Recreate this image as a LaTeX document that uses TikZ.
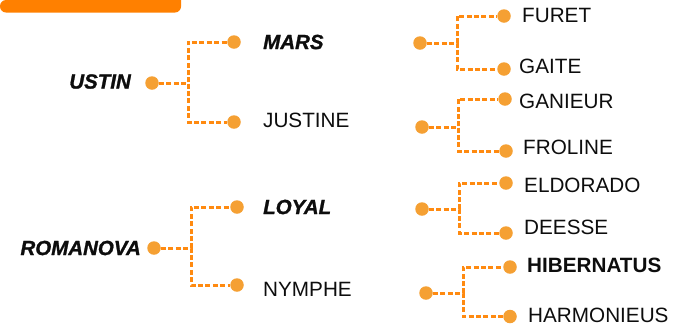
\documentclass[tikz,border=0pt]{standalone}
\usepackage{fontspec}
\setmainfont{Liberation Sans}
\newfontface\heavybi{Liberation Sans Bold Italic}[FakeBold=1.2]
\definecolor{barorange}{HTML}{FF8000}
\definecolor{lineorange}{HTML}{FF8A10}
\definecolor{dotorange}{HTML}{F5A033}
\begin{document}
\begin{tikzpicture}[x=1pt,y=-1pt,
  dot/.style={circle,fill=dotorange,inner sep=0pt,minimum size=13.5pt},
  conn/.style={draw=lineorange,line width=3pt,dash pattern=on 5pt off 2.4pt},
  lbl/.style={inner sep=0pt,font=\fontsize{20.7}{24}\selectfont,text=black!95},
  lblbi/.style={lbl,font=\fontsize{20.5}{24}\selectfont\heavybi},
  lblb/.style={lbl,font=\fontsize{20.7}{24}\selectfont\bfseries}]
\useasboundingbox (0,0) rectangle (683,325);
\fill[barorange] (0,0) -- (181,0) -- (181,6) [rounded corners=6pt]-- (181,12.5) -- (0,12.5) -- cycle;

% group A
\node[dot] (dA) at (152,83) {};
\node[dot] (dA1) at (234,42) {};
\node[dot] (dA2) at (234,122) {};
\coordinate (jA) at (188,0);
\node[lblbi,anchor=east] (tA) at (131,81.5) {USTIN};
\node[lblbi,anchor=west] (tA1) at (263,42) {MARS};
\node[lbl,anchor=west] (tA2) at (263,120) {JUSTINE};
\draw[conn] (dA) -- (dA -| jA) |- (dA1);
\draw[conn] (dA) -- (dA -| jA) |- (dA2);

% group B
\node[dot] (dB) at (154,248) {};
\node[dot] (dB1) at (237,207) {};
\node[dot] (dB2) at (237,285) {};
\coordinate (jB) at (191,0);
\node[lblbi,anchor=east] (tB) at (141,248) {ROMANOVA};
\node[lblbi,anchor=west] (tB1) at (263,207) {LOYAL};
\node[lbl,anchor=west] (tB2) at (263,289) {NYMPHE};
\draw[conn] (dB) -- (dB -| jB) |- (dB1);
\draw[conn] (dB) -- (dB -| jB) |- (dB2);

% group C
\node[dot] (dC) at (420,43) {};
\node[dot] (dC1) at (504,16) {};
\node[dot] (dC2) at (504,69) {};
\coordinate (jC) at (457,0);
\node[lbl,anchor=west] (tC1) at (522,15) {FURET};
\node[lbl,anchor=west] (tC2) at (519,66) {GAITE};
\draw[conn] (dC) -- (dC -| jC) |- (dC1);
\draw[conn] (dC) -- (dC -| jC) |- (dC2);

% group D
\node[dot] (dD) at (422,127) {};
\node[dot] (dD1) at (505,99) {};
\node[dot] (dD2) at (506,151) {};
\coordinate (jD) at (458,0);
\node[lbl,anchor=west] (tD1) at (519,101) {GANIEUR};
\node[lbl,anchor=west] (tD2) at (523,147.5) {FROLINE};
\draw[conn] (dD) -- (dD -| jD) |- (dD1);
\draw[conn] (dD) -- (dD -| jD) |- (dD2);

% group E
\node[dot] (dE) at (422,209) {};
\node[dot] (dE1) at (506,183) {};
\node[dot] (dE2) at (506,233) {};
\coordinate (jE) at (459,0);
\node[lbl,anchor=west] (tE1) at (524,185.5) {ELDORADO};
\node[lbl,anchor=west] (tE2) at (524,227.5) {DEESSE};
\draw[conn] (dE) -- (dE -| jE) |- (dE1);
\draw[conn] (dE) -- (dE -| jE) |- (dE2);

% group F
\node[dot] (dF) at (426,293) {};
\node[dot] (dF1) at (510,267) {};
\node[dot] (dF2) at (510,316.5) {};
\coordinate (jF) at (463,0);
\node[lblb,anchor=west] (tF1) at (527,265) {HIBERNATUS};
\node[lbl,anchor=west] (tF2) at (528,315) {HARMONIEUS};
\draw[conn] (dF) -- (dF -| jF) |- (dF1);
\draw[conn] (dF) -- (dF -| jF) |- (dF2);
\end{tikzpicture}
\end{document}
